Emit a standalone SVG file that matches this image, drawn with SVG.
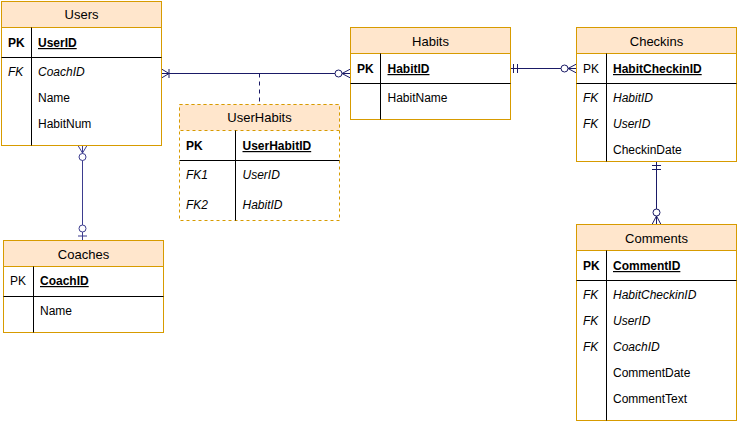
<svg xmlns="http://www.w3.org/2000/svg" width="738" height="422" viewBox="0 0 738 422">
<style>
  text { font-family: "Liberation Sans", Arial, Helvetica, sans-serif; font-size: 12px; fill: #000; }
  .title { font-size: 13px; text-anchor: middle; }
  .b { font-weight: bold; }
  .pkf { font-weight: bold; text-decoration: underline; }
  .i { font-style: italic; }
  .box { fill: #fff; stroke: #d79b00; stroke-width: 1; }
  .dbox { fill: #fff; stroke: #d79b00; stroke-width: 1; stroke-dasharray: 3 3; }
  .hdr { fill: #ffe6cc; stroke: #d79b00; stroke-width: 1; }
  .dhdr { fill: #ffe6cc; stroke: #d79b00; stroke-width: 1; stroke-dasharray: 3 3; }
  .sep { stroke: #000; stroke-width: 1; fill: none; }
  .edge { stroke: #1a1a66; stroke-width: 1; fill: none; }
  .edge2 { stroke: #3d3d8f; stroke-width: 1; fill: none; }
  .circ { stroke: #1a1a66; stroke-width: 1; fill: #fff; }
  .circ2 { stroke: #3d3d8f; stroke-width: 1; fill: #fff; }
</style>

<g id="connectors">
  <!-- Users - Habits -->
  <line class="edge" x1="161.5" y1="73.5" x2="350.5" y2="73.5"/>
  <path class="edge" d="M161.5 69 L169 73.5 L161.5 78 M169 69 L169 78"/>
  <path class="edge" d="M350.5 69 L342 73.5 L350.5 78"/>
  <circle class="circ" cx="338.5" cy="73.5" r="3.5"/>
  <line class="edge" x1="259.5" y1="73.5" x2="259.5" y2="104.5" stroke-dasharray="4 4"/>
  <!-- Habits - Checkins -->
  <line class="edge" x1="510.5" y1="68.5" x2="576.5" y2="68.5"/>
  <path class="edge" d="M513.5 64 L513.5 73 M517.5 64 L517.5 73"/>
  <path class="edge" d="M576.5 64 L568 68.5 L576.5 73"/>
  <circle class="circ" cx="564.5" cy="68.5" r="3.5"/>
  <!-- Checkins - Comments -->
  <line class="edge" x1="656.5" y1="161.5" x2="656.5" y2="224.5"/>
  <path class="edge" d="M652 165.5 L661 165.5 M652 169.5 L661 169.5"/>
  <path class="edge" d="M652 224.5 L656.5 216 L661 224.5"/>
  <circle class="circ" cx="656.5" cy="212.5" r="3.5"/>
  <!-- Users - Coaches -->
  <line class="edge2" x1="82.5" y1="145.5" x2="82.5" y2="240.5"/>
  <path class="edge2" d="M78 145.5 L82.5 153 L87 145.5"/>
  <circle class="circ2" cx="82.5" cy="157" r="3.5"/>
  <circle class="circ2" cx="82.5" cy="228.5" r="3.5"/>
  <path class="edge2" d="M78 236 L87 236"/>
</g>

<g id="users">
  <rect class="box" x="1.5" y="1.5" width="160" height="144"/>
  <rect class="hdr" x="1.5" y="1.5" width="160" height="26"/>
  <line class="sep" x1="1.5" y1="57.5" x2="161.5" y2="57.5"/>
  <line class="sep" x1="31.5" y1="27.5" x2="31.5" y2="145.5"/>
  <text class="title" x="81.5" y="19">Users</text>
  <text class="b" x="8" y="47">PK</text>
  <text class="pkf" x="38" y="47">UserID</text>
  <text class="i" x="8" y="76">FK</text>
  <text class="i" x="38" y="76">CoachID</text>
  <text x="38" y="102">Name</text>
  <text x="38" y="128">HabitNum</text>
</g>

<g id="coaches">
  <rect class="box" x="3.5" y="240.5" width="160" height="92"/>
  <rect class="hdr" x="3.5" y="240.5" width="160" height="26"/>
  <line class="sep" x1="3.5" y1="296.5" x2="163.5" y2="296.5"/>
  <line class="sep" x1="33.5" y1="266.5" x2="33.5" y2="332.5"/>
  <text class="title" x="83.5" y="259">Coaches</text>
  <text x="10" y="285">PK</text>
  <text class="pkf" x="40" y="285">CoachID</text>
  <text x="40" y="315">Name</text>
</g>

<g id="userhabits">
  <rect class="dbox" x="179.5" y="104.5" width="160" height="116"/>
  <rect class="dhdr" x="179.5" y="104.5" width="160" height="26"/>
  <line class="sep" x1="179.5" y1="160.5" x2="339.5" y2="160.5"/>
  <line class="sep" x1="235.5" y1="130.5" x2="235.5" y2="220.5"/>
  <text class="title" x="259.5" y="122">UserHabits</text>
  <text class="b" x="186" y="150">PK</text>
  <text class="pkf" x="242.5" y="150">UserHabitID</text>
  <text class="i" x="186" y="179">FK1</text>
  <text class="i" x="242.5" y="179">UserID</text>
  <text class="i" x="186" y="209">FK2</text>
  <text class="i" x="242.5" y="209">HabitID</text>
</g>

<g id="habits">
  <rect class="box" x="350.5" y="27.5" width="160" height="92"/>
  <rect class="hdr" x="350.5" y="27.5" width="160" height="26"/>
  <line class="sep" x1="350.5" y1="83.5" x2="510.5" y2="83.5"/>
  <line class="sep" x1="380.5" y1="53.5" x2="380.5" y2="119.5"/>
  <text class="title" x="430.5" y="46">Habits</text>
  <text class="b" x="357" y="73">PK</text>
  <text class="pkf" x="387.5" y="73">HabitID</text>
  <text x="387.5" y="102">HabitName</text>
</g>

<g id="checkins">
  <rect class="box" x="576.5" y="27.5" width="160" height="134"/>
  <rect class="hdr" x="576.5" y="27.5" width="160" height="26"/>
  <line class="sep" x1="576.5" y1="83.5" x2="736.5" y2="83.5"/>
  <line class="sep" x1="606.5" y1="53.5" x2="606.5" y2="161.5"/>
  <text class="title" x="656.5" y="46">Checkins</text>
  <text x="583" y="73">PK</text>
  <text class="pkf" x="613" y="73">HabitCheckinID</text>
  <text class="i" x="583" y="102">FK</text>
  <text class="i" x="613" y="102">HabitID</text>
  <text class="i" x="583" y="128">FK</text>
  <text class="i" x="613" y="128">UserID</text>
  <text x="613" y="154">CheckinDate</text>
</g>

<g id="comments">
  <rect class="box" x="576.5" y="224.5" width="160" height="196"/>
  <rect class="hdr" x="576.5" y="224.5" width="160" height="26"/>
  <line class="sep" x1="576.5" y1="280.5" x2="736.5" y2="280.5"/>
  <line class="sep" x1="606.5" y1="250.5" x2="606.5" y2="420.5"/>
  <text class="title" x="656.5" y="243">Comments</text>
  <text class="b" x="583" y="270">PK</text>
  <text class="pkf" x="613" y="270">CommentID</text>
  <text class="i" x="583" y="299">FK</text>
  <text class="i" x="613" y="299">HabitCheckinID</text>
  <text class="i" x="583" y="325">FK</text>
  <text class="i" x="613" y="325">UserID</text>
  <text class="i" x="583" y="351">FK</text>
  <text class="i" x="613" y="351">CoachID</text>
  <text x="613" y="377">CommentDate</text>
  <text x="613" y="403">CommentText</text>
</g>
</svg>
